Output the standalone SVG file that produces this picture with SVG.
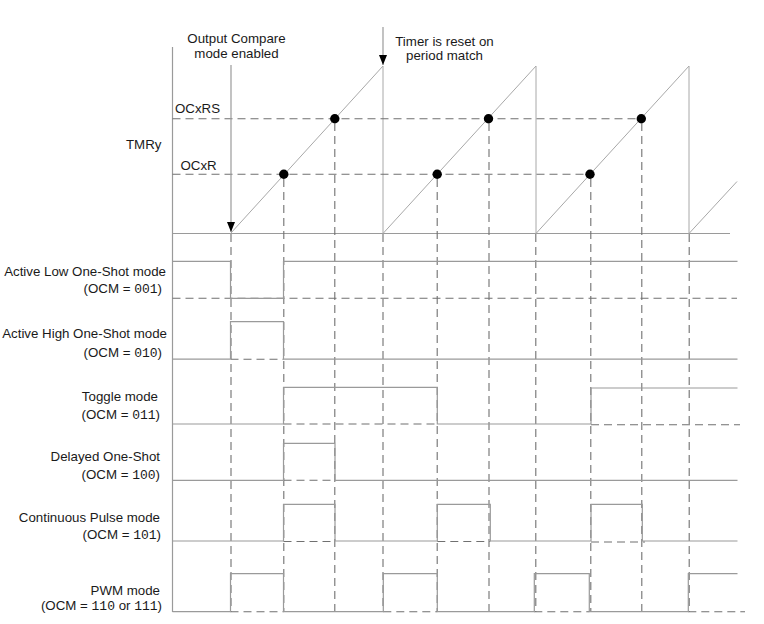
<svg xmlns="http://www.w3.org/2000/svg" width="764" height="624" viewBox="0 0 764 624">
<style>
text{font-family:"Liberation Sans",Arial,sans-serif;font-size:13.3px;fill:#1a1a1a}
.m{font-family:"Liberation Mono","Courier New",monospace;font-size:13px}
.s{stroke:#9a9a9a;stroke-width:1.2;fill:none}
.r{stroke:#a8a8a8;stroke-width:1;fill:none}
.d{stroke:#707070;stroke-width:1.1;fill:none;stroke-dasharray:8 5}
.dot{fill:#000}
</style>
<defs>
<marker id="ah" viewBox="0 0 10 8" refX="10" refY="4" markerWidth="10" markerHeight="8" markerUnits="userSpaceOnUse" orient="auto">
<path d="M0,0 L10,4 L0,8 Z" fill="#000"/>
</marker>
</defs>
<rect width="764" height="624" fill="#fff"/>

<g id="axes">
<line class="s" x1="172.5" y1="47" x2="172.5" y2="612"/>
<line class="s" x1="172.5" y1="233.5" x2="730" y2="233.5"/>
</g>

<g id="tmr">
<text x="126" y="149">TMRy</text>
<text x="175" y="112.5">OCxRS</text>
<text x="180.5" y="170">OCxR</text>
<polyline class="r" points="230.5,233.5 383,66 383,233.5 536,66 536,233.5 689,66 689,233.5 737,181.5"/>
<line class="d" x1="172.5" y1="118.7" x2="641" y2="118.7"/>
<line class="d" x1="172.5" y1="174.3" x2="590" y2="174.3"/>
<circle class="dot" cx="283.8" cy="174.3" r="4.7"/>
<circle class="dot" cx="334.8" cy="118.7" r="4.7"/>
<circle class="dot" cx="437.2" cy="174.3" r="4.7"/>
<circle class="dot" cx="488.5" cy="118.7" r="4.7"/>
<circle class="dot" cx="590" cy="174.3" r="4.7"/>
<circle class="dot" cx="641.3" cy="118.7" r="4.7"/>
</g>

<g id="connectors">
<line x1="231" y1="65" x2="231" y2="232" stroke="#9a9a9a" stroke-width="1.2" marker-end="url(#ah)"/>
<line x1="383" y1="27" x2="383" y2="65" stroke="#9a9a9a" stroke-width="1.2" marker-end="url(#ah)"/>
<line class="d" x1="231" y1="234" x2="231" y2="612"/>
<line class="d" x1="283.8" y1="179" x2="283.8" y2="612"/>
<line class="d" x1="334.8" y1="123" x2="334.8" y2="612"/>
<line class="d" x1="383" y1="234" x2="383" y2="612"/>
<line class="d" x1="437.2" y1="179" x2="437.2" y2="612"/>
<line class="d" x1="489" y1="123" x2="489" y2="612"/>
<line class="d" x1="535.8" y1="234" x2="535.8" y2="612"/>
<line class="d" x1="590.8" y1="179" x2="590.8" y2="612"/>
<line class="d" x1="641.8" y1="123" x2="641.8" y2="612"/>
<line class="d" x1="689.2" y1="234" x2="689.2" y2="612"/>
</g>

<g id="labels-top">
<text x="236.5" y="43" text-anchor="middle">Output Compare</text>
<text x="236.5" y="57.5" text-anchor="middle">mode enabled</text>
<text x="444.5" y="46" text-anchor="middle">Timer is reset on</text>
<text x="444.5" y="59.5" text-anchor="middle">period match</text>
</g>

<g id="row-active-low">
<text x="166" y="275.5" text-anchor="end">Active Low One-Shot mode</text>
<text x="162" y="292.7" text-anchor="end">(OCM = <tspan class="m">001</tspan>)</text>
<line class="d" x1="172.5" y1="298.3" x2="737" y2="298.3"/>
<polyline class="s" points="172.5,261.3 230.5,261.3 230.5,298.3 283.5,298.3 283.5,261.3 737.5,261.3"/>
</g>

<g id="row-active-high">
<text x="167" y="337.5" text-anchor="end">Active High One-Shot mode</text>
<text x="162" y="357.3" text-anchor="end">(OCM = <tspan class="m">010</tspan>)</text>
<line class="d" x1="230.5" y1="359.2" x2="283.5" y2="359.2"/>
<polyline class="s" points="172.5,359.2 230.5,359.2"/>
<polyline class="s" points="230.5,359.2 230.5,321.7 283.5,321.7 283.5,359.2 737.5,359.2"/>
</g>

<g id="row-toggle">
<text x="158" y="400.7" text-anchor="end">Toggle mode</text>
<text x="160" y="419.3" text-anchor="end">(OCM = <tspan class="m">011</tspan>)</text>
<line class="d" x1="283.5" y1="424" x2="437" y2="424"/>
<line class="d" x1="591" y1="424.8" x2="740" y2="424.8"/>
<polyline class="s" points="172.5,424 283.5,424 283.5,387.3 437.3,387.3 437.3,424 591,424 591,388 737.5,388"/>
</g>

<g id="row-delayed">
<text x="160" y="460.7" text-anchor="end">Delayed One-Shot</text>
<text x="160" y="479.3" text-anchor="end">(OCM = <tspan class="m">100</tspan>)</text>
<line class="d" x1="283.5" y1="480.3" x2="335" y2="480.3"/>
<polyline class="s" points="172.5,480.3 283.5,480.3 283.5,443.3 335,443.3 335,480.3 737.5,480.3"/>
</g>

<g id="row-continuous">
<text x="160" y="522" text-anchor="end">Continuous Pulse mode</text>
<text x="161" y="538.7" text-anchor="end">(OCM = <tspan class="m">101</tspan>)</text>
<line class="d" x1="283.5" y1="541.5" x2="335" y2="541.5"/>
<line class="d" x1="437.3" y1="541.5" x2="490.3" y2="541.5"/>
<line class="d" x1="591" y1="542" x2="645" y2="542"/>
<polyline class="s" points="172.5,541 283.5,541 283.5,504.3 335,504.3 335,541 437.3,541 437.3,504.3 490.3,504.3 490.3,541 591,541 591,504.3 642.3,504.3 642.3,541 737.5,541"/>
</g>

<g id="row-pwm">
<text x="160" y="595.3" text-anchor="end">PWM mode</text>
<text x="162" y="610" text-anchor="end">(OCM = <tspan class="m">110</tspan> or <tspan class="m">111</tspan>)</text>
<line class="d" x1="230.5" y1="611.7" x2="283.5" y2="611.7"/>
<line class="d" x1="383.3" y1="611.7" x2="437.3" y2="611.7"/>
<line class="d" x1="534.3" y1="611.7" x2="589.3" y2="611.7"/>
<line class="d" x1="688.3" y1="611.7" x2="745" y2="611.7"/>
<polyline class="s" points="172.5,611.7 230.5,611.7 230.5,573.7 283.5,573.7 283.5,611.7 383.3,611.7 383.3,573.7 437.3,573.7 437.3,611.7 534.3,611.7 534.3,573.7 589.3,573.7 589.3,611.7 688.3,611.7 688.3,573.7 737.5,573.7"/>
</g>
</svg>
